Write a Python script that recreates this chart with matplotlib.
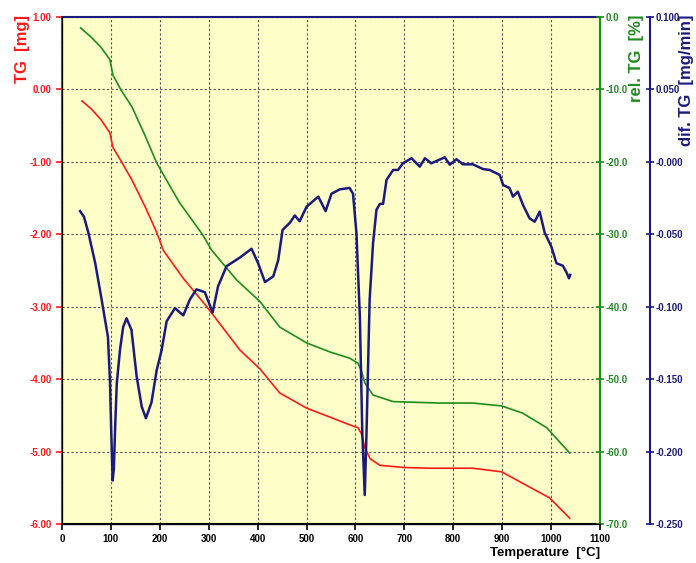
import numpy as np
import matplotlib
matplotlib.use('Agg')
import matplotlib.pyplot as plt
from matplotlib.ticker import FormatStrFormatter

plt.rcParams['font.family'] = ['Liberation Sans Narrow', 'Liberation Sans', 'DejaVu Sans']

# TG curve [mg]
tg_temp = [41, 60, 80, 98, 104, 120, 143, 170, 194, 207, 247, 296, 364, 405, 445,
           500, 550, 588, 605, 612, 619, 630, 650, 700, 752, 840, 899, 956, 997, 1038]
tg_mass = [-0.16, -0.27, -0.42, -0.60, -0.80, -0.98, -1.25, -1.62, -1.98, -2.22, -2.60,
           -3.00, -3.60, -3.86, -4.19, -4.40, -4.53, -4.63, -4.67, -4.75, -4.94, -5.10,
           -5.19, -5.22, -5.23, -5.23, -5.28, -5.49, -5.64, -5.92]

# relative TG [%]
rel_temp = [38, 60, 80, 98, 104, 120, 143, 170, 194, 240, 288, 306, 357, 405, 445,
            500, 550, 588, 605, 612, 619, 636, 677, 772, 840, 899, 942, 991, 1038]
rel_val = [-1.5, -2.8, -4.2, -5.9, -8.0, -10.0, -12.4, -16.4, -20.2, -25.6, -30.1,
           -32.2, -36.3, -39.3, -42.8, -45.0, -46.3, -47.1, -47.8, -48.8, -50.5, -52.2,
           -53.1, -53.3, -53.3, -53.7, -54.7, -56.7, -60.2]

# differential TG [mg/min]
dtg_temp = [37, 45, 54, 68, 81, 94, 98, 101, 103.5, 106, 109, 112, 118.5, 125, 132, 142,
            152.6, 163, 171.6, 183, 193.5, 203.7, 214, 231, 248, 261.5, 275, 292, 308,
            319, 336.5, 364, 387.6, 401, 415, 432, 442, 451, 466, 476, 486, 500, 524,
            539, 551, 568, 588, 595, 602, 609, 614, 619, 622.6, 629, 636, 643, 650,
            656.5, 663.5, 677, 687, 697, 714.6, 731.5, 742, 755, 782.6, 793, 806.5, 820,
            840, 861, 874.5, 895, 902, 915, 922, 932, 942.6, 956, 966.5, 976.6, 987,
            1000.6, 1011, 1024, 1031, 1036.6, 1039]
dtg_val = [-0.034, -0.038, -0.049, -0.070, -0.095, -0.121, -0.151, -0.190, -0.220, -0.212,
           -0.180, -0.153, -0.130, -0.114, -0.108, -0.116, -0.148, -0.169, -0.177,
           -0.166, -0.144, -0.130, -0.110, -0.101, -0.106, -0.095, -0.088, -0.090,
           -0.104, -0.086, -0.072, -0.066, -0.060, -0.070, -0.083, -0.079, -0.068,
           -0.047, -0.042, -0.037, -0.041, -0.031, -0.024, -0.034, -0.022, -0.019,
           -0.018, -0.022, -0.049, -0.107, -0.187, -0.230, -0.187, -0.095, -0.056,
           -0.033, -0.029, -0.029, -0.0125, -0.0056, -0.0056, -0.001, 0.0025, -0.0033,
           0.0025, -0.001, 0.0031, -0.002, 0.0018, -0.0017, -0.0017, -0.005, -0.0056,
           -0.009, -0.016, -0.018, -0.024, -0.0206, -0.0298, -0.039, -0.0413, -0.0344,
           -0.049, -0.0586, -0.070, -0.0717, -0.076, -0.0804, -0.078]

red = '#ff1a1a'
green = '#1e8c1e'
navy = '#1a1a80'
label_fam = ['Liberation Sans', 'DejaVu Sans']

fig = plt.figure(figsize=(6.96, 5.63), dpi=100)
ax1 = fig.add_axes([62/696, 39/563, 538/696, 507/563])
ax1.set_facecolor('#fefec8')

ax1.plot(tg_temp, tg_mass, color=red, lw=1.2)
ax1.set_xlim(0, 1100)
ax1.set_ylim(-6, 1)
ax1.set_xticks(np.arange(0, 1101, 100))
ax1.set_yticks(np.arange(-6, 1.01, 1))
ax1.yaxis.set_major_formatter(FormatStrFormatter('%.2f'))
ax1.grid(True, ls=(0, (2, 2)), color='#555555', lw=0.8)
ax1.tick_params(axis='y', colors=red, length=4, width=1.2, labelsize=7)
ax1.tick_params(axis='x', colors='black', length=4, width=1.2, labelsize=7)
for lab in ax1.get_xticklabels() + ax1.get_yticklabels():
    lab.set_fontweight('bold')
ax1.spines['left'].set_color(red)
ax1.spines['left'].set_linewidth(1.5)
ax1.spines['bottom'].set_color('black')
ax1.spines['bottom'].set_linewidth(1.5)
ax1.spines['top'].set_color(navy)
ax1.spines['top'].set_linewidth(1.5)
ax1.set_xlabel('Temperature  [°C]', fontsize=9.5, fontweight='bold', loc='right',
               family=label_fam, labelpad=2)

ax2 = ax1.twinx()
ax2.plot(rel_temp, rel_val, color=green, lw=1.2)
ax2.set_ylim(-70, 0)
ax2.set_yticks(np.arange(-70, 0.1, 10))
ax2.yaxis.set_major_formatter(FormatStrFormatter('%.1f'))
ax2.tick_params(axis='y', colors=green, direction='inout', length=6, width=1.2,
                labelsize=7, pad=1)
for lab in ax2.get_yticklabels():
    lab.set_fontweight('bold')
ax2.spines['right'].set_color(green)
ax2.spines['right'].set_linewidth(1.5)
ax2.spines['top'].set_visible(False)

ax3 = ax1.twinx()
ax3.spines['right'].set_position(('axes', 1.093))
ax3.plot(dtg_temp, dtg_val, color=navy, lw=1.8)
ax3.set_ylim(-0.25, 0.1)
ax3.set_yticks(np.arange(-0.25, 0.101, 0.05))
ax3.yaxis.set_major_formatter(FormatStrFormatter('%.3f'))
ax3.tick_params(axis='y', colors=navy, direction='inout', length=6, width=1.2,
                labelsize=7, pad=1)
for lab in ax3.get_yticklabels():
    lab.set_fontweight('bold')
ax3.spines['right'].set_color(navy)
ax3.spines['right'].set_linewidth(1.5)
ax3.spines['top'].set_visible(False)

# axis titles placed at the top of each axis
top = 1 - 15/563
fig.text(23/696, top, 'TG  [mg]', color=red, fontsize=12, fontweight='bold',
         family=label_fam, rotation=90, ha='center', va='top')
fig.text(637/696, top, 'rel. TG  [%]', color=green, fontsize=12, fontweight='bold',
         family=label_fam, rotation=90, ha='center', va='top')
fig.text(687/696, top, 'dif. TG  [mg/min]', color=navy, fontsize=12, fontweight='bold',
         family=label_fam, rotation=90, ha='center', va='top')

fig.savefig('out.png', dpi=100)
